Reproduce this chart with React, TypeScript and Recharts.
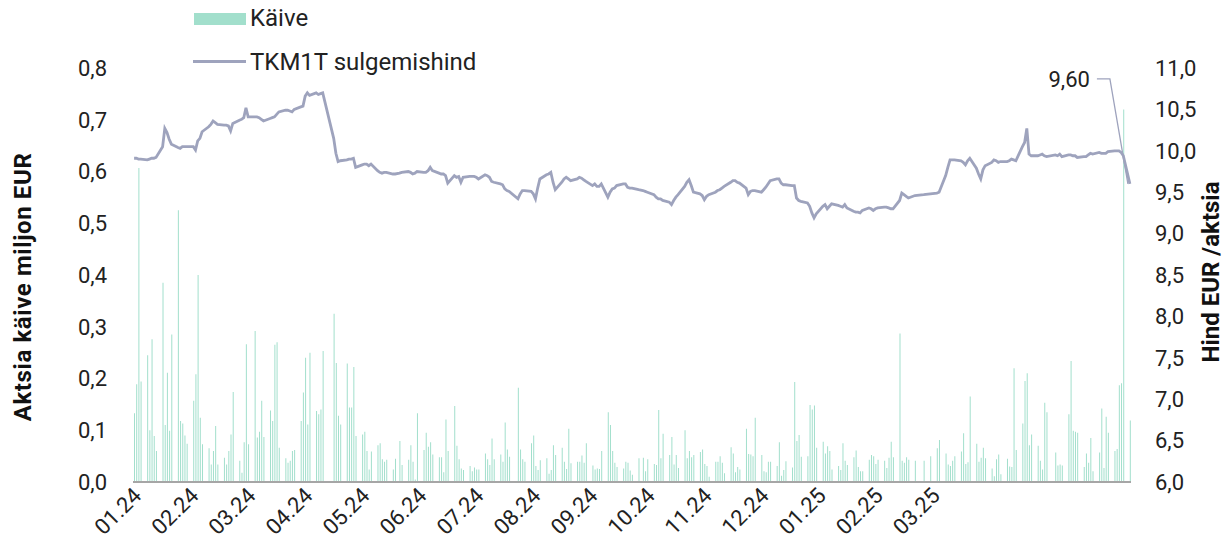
import React from 'react';
import {
  ComposedChart,
  Bar,
  Line,
  XAxis,
  YAxis,
  Legend,
  LabelList
} from 'recharts';

// daily turnover, million EUR (one value per trading day)
const turnover2401 = [0.133, 0.189, 0.607, 0.194, 0.245, 0.1, 0.276, 0.089, 0.06, 0.385, 0.11, 0.211, 0.099, 0.285, 0.525, 0.118, 0.113, 0.09, 0.074, 0.157, 0.208, 0.4];
const turnover2402 = [0.124, 0.073, 0.065, 0.034, 0.06, 0.108, 0.034, 0.047, 0.034, 0.06, 0.092, 0.174, 0.041, 0.018, 0.077, 0.266, 0.073, 0.292, 0.086, 0.097, 0.157];
const turnover2403 = [0.087, 0.138, 0.118, 0.265, 0.27, 0.066, 0.046, 0.037, 0.041, 0.06, 0.062, 0.118, 0.173, 0.24, 0.111, 0.25, 0.137, 0.131, 0.14, 0.253];
const turnover2404 = [0.325, 0.23, 0.128, 0.111, 0.229, 0.144, 0.144, 0.222, 0.089, 0.092, 0.097, 0.06, 0.024, 0.059, 0.071, 0.075, 0.044, 0.039, 0.043, 0.024, 0.045];
const turnover2405 = [0.079, 0.033, 0.043, 0.071, 0.039, 0.005, 0.133, 0.062, 0.095, 0.068, 0.077, 0.053, 0.048, 0.048, 0.019, 0.121, 0.06, 0.147, 0.07, 0.044, 0.026, 0.023];
const turnover2406 = [0.031, 0.021, 0.028, 0.024, 0.024, 0.055, 0.044, 0.033, 0.084, 0.044, 0.053, 0.039, 0.115, 0.063, 0.049, 0.182, 0.063, 0.044, 0.039];
const turnover2407 = [0.075, 0.09, 0.031, 0.023, 0.042, 0.046, 0.016, 0.023, 0.071, 0.052, 0.066, 0.039, 0.025, 0.103, 0.036, 0.039, 0.039, 0.051, 0.037, 0.075, 0.032, 0.024, 0.026];
const turnover2408 = [0.025, 0.06, 0.135, 0.11, 0.06, 0.037, 0.029, 0.026, 0.039, 0.037, 0.022, 0.014, 0.046, 0.047, 0.021, 0.044, 0.035, 0.033, 0.139, 0.046, 0.093];
const turnover2409 = [0.052, 0.087, 0.034, 0.052, 0.027, 0.1, 0.046, 0.06, 0.048, 0.052, 0.058, 0.063, 0.035, 0.031, 0.01, 0.039, 0.039, 0.05, 0.037, 0.017, 0.067];
const turnover2410 = [0.055, 0.019, 0.029, 0.024, 0.103, 0.054, 0.053, 0.05, 0.124, 0.052, 0.021, 0.019, 0.039, 0.039, 0.031, 0.077, 0.012, 0.023, 0.04, 0.028, 0.193, 0.079, 0.091];
const turnover2411 = [0.049, 0.05, 0.149, 0.14, 0.148, 0.066, 0.078, 0.055, 0.069, 0.06, 0.024, 0.031, 0.023, 0.075, 0.041, 0.033, 0.048, 0.061, 0.029, 0.021, 0.021];
const turnover2412 = [0.043, 0.052, 0.05, 0.035, 0.043, 0.041, 0.027, 0.047, 0.078, 0.048, 0.287, 0.041, 0.037, 0.048, 0.043, 0.041, 0.041, 0.05];
const turnover2501 = [0.065, 0.081, 0.055, 0.034, 0.031, 0.041, 0.05, 0.059, 0.094, 0.035, 0.038, 0.165, 0.074, 0.039, 0.047, 0.066, 0.046, 0.026, 0.011, 0.044, 0.053, 0.015];
const turnover2502 = [0.045, 0.03, 0.029, 0.22, 0.062, 0.113, 0.195, 0.21, 0.071, 0.092, 0.07, 0.041, 0.024, 0.153, 0.135, 0.057, 0.032, 0.034, 0.032];
const turnover2503 = [0.131, 0.234, 0.099, 0.097, 0.095, 0.029, 0.055, 0.037, 0.085, 0.021, 0.057, 0.142, 0.027, 0.126, 0.095, 0.06, 0.064, 0.187, 0.191, 0.72, 0.119];

// closing price, EUR
const price2401 = [9.91, 9.91, 9.9, 9.9, 9.89, 9.9, 9.91, 9.91, 9.92, 10.05, 10.27, 10.22, 10.14, 10.08, 10.04, 10.03, 10.05, 10.05, 10.05, 10.05, 10.01, 10.12];
const price2402 = [10.15, 10.23, 10.29, 10.32, 10.36, 10.34, 10.32, 10.31, 10.31, 10.3, 10.24, 10.33, 10.37, 10.38, 10.4, 10.52, 10.41, 10.41, 10.41, 10.4, 10.38];
const price2403 = [10.36, 10.39, 10.4, 10.41, 10.44, 10.47, 10.49, 10.49, 10.48, 10.47, 10.5, 10.53, 10.54, 10.66, 10.7, 10.67, 10.7, 10.68, 10.69, 10.7];
const price2404 = [10.15, 9.97, 9.87, 9.88, 9.89, 9.9, 9.9, 9.91, 9.8, 9.83, 9.84, 9.84, 9.82, 9.84, 9.76, 9.74, 9.73, 9.74, 9.74, 9.72, 9.72];
const price2405 = [9.73, 9.74, 9.75, 9.74, 9.72, 9.73, 9.75, 9.74, 9.74, 9.76, 9.8, 9.76, 9.73, 9.72, 9.72, 9.7, 9.61, 9.7, 9.68, 9.69, 9.62, 9.68];
const price2406 = [9.69, 9.69, 9.69, 9.68, 9.66, 9.71, 9.7, 9.68, 9.63, 9.62, 9.6, 9.59, 9.54, 9.52, 9.51, 9.42, 9.48, 9.52, 9.52];
const price2407 = [9.51, 9.48, 9.42, 9.55, 9.66, 9.71, 9.72, 9.74, 9.62, 9.53, 9.62, 9.66, 9.68, 9.66, 9.64, 9.66, 9.68, 9.67, 9.65, 9.63, 9.58, 9.6, 9.57];
const price2408 = [9.57, 9.6, 9.44, 9.5, 9.54, 9.55, 9.58, 9.6, 9.6, 9.56, 9.55, 9.55, 9.53, 9.52, 9.51, 9.5, 9.47, 9.44, 9.42, 9.42, 9.4];
const price2409 = [9.38, 9.35, 9.4, 9.44, 9.47, 9.57, 9.62, 9.65, 9.58, 9.5, 9.48, 9.46, 9.41, 9.45, 9.47, 9.5, 9.52, 9.53, 9.55, 9.57, 9.62];
const price2410 = [9.64, 9.64, 9.62, 9.61, 9.55, 9.47, 9.51, 9.52, 9.52, 9.5, 9.53, 9.56, 9.6, 9.64, 9.66, 9.66, 9.61, 9.59, 9.59, 9.58, 9.58, 9.43, 9.4];
const price2411 = [9.39, 9.37, 9.33, 9.25, 9.19, 9.24, 9.33, 9.35, 9.3, 9.33, 9.36, 9.34, 9.33, 9.32, 9.35, 9.31, 9.27, 9.26, 9.26, 9.25, 9.28];
const price2412 = [9.31, 9.3, 9.28, 9.3, 9.31, 9.32, 9.32, 9.31, 9.3, 9.3, 9.4, 9.49, 9.47, 9.45, 9.43, 9.46, 9.47, 9.48];
const price2501 = [9.49, 9.5, 9.7, 9.8, 9.89, 9.89, 9.89, 9.88, 9.86, 9.83, 9.88, 9.91, 9.79, 9.72, 9.66, 9.77, 9.82, 9.86, 9.89, 9.88, 9.86, 9.87];
const price2502 = [9.87, 9.88, 9.9, 9.89, 9.88, 10.05, 10.1, 10.27, 9.96, 9.94, 9.94, 9.95, 9.96, 9.94, 9.93, 9.95, 9.94, 9.96, 9.93];
const price2503 = [9.95, 9.95, 9.94, 9.94, 9.92, 9.93, 9.93, 9.95, 9.97, 9.96, 9.98, 9.97, 9.97, 9.97, 9.99, 10.0, 10.0, 10.0, 9.98, 9.94, 9.6];

const holidays = ['2024-01-01', '2024-03-29', '2024-04-01', '2024-05-01', '2024-06-24', '2024-08-20', '2024-12-24', '2024-12-25', '2024-12-26', '2024-12-31', '2025-01-01', '2025-02-24'];

const xLabels = ['01.24', '02.24', '03.24', '04.24', '05.24', '06.24', '07.24', '08.24', '09.24', '10.24', '11.24', '12.24', '01.25', '02.25', '03.25'];
const leftTicks = [0, 0.1, 0.2, 0.3, 0.4, 0.5, 0.6, 0.7, 0.8];
const rightTicks = [6, 6.5, 7, 7.5, 8, 8.5, 9, 9.5, 10, 10.5, 11];

const turnoverByMonth: Record<string, number[]> = {
  '2024-01': turnover2401, '2024-02': turnover2402, '2024-03': turnover2403, '2024-04': turnover2404,
  '2024-05': turnover2405, '2024-06': turnover2406, '2024-07': turnover2407, '2024-08': turnover2408,
  '2024-09': turnover2409, '2024-10': turnover2410, '2024-11': turnover2411, '2024-12': turnover2412,
  '2025-01': turnover2501, '2025-02': turnover2502, '2025-03': turnover2503
};
const priceByMonth: Record<string, number[]> = {
  '2024-01': price2401, '2024-02': price2402, '2024-03': price2403, '2024-04': price2404,
  '2024-05': price2405, '2024-06': price2406, '2024-07': price2407, '2024-08': price2408,
  '2024-09': price2409, '2024-10': price2410, '2024-11': price2411, '2024-12': price2412,
  '2025-01': price2501, '2025-02': price2502, '2025-03': price2503
};

const BAR_COLOR = '#a2dfcc';
const LINE_COLOR = '#9ea3bd';
const FONT = 'Roboto, "Noto Sans", sans-serif';

// calendar days, weekends and holidays left empty
const buildData = () => {
  const rows: any[] = [];
  const counters: Record<string, number> = {};
  const start = Date.UTC(2024, 0, 2);
  const end = Date.UTC(2025, 2, 31);
  for (let t = start; t <= end; t += 86400000) {
    const d = new Date(t);
    const date = d.toISOString().slice(0, 10);
    const month = date.slice(0, 7);
    const wd = d.getUTCDay();
    const trading = wd !== 0 && wd !== 6 && !holidays.includes(date);
    let turnover = null;
    let price = null;
    if (trading) {
      const i = counters[month] ?? 0;
      counters[month] = i + 1;
      turnover = turnoverByMonth[month][i] ?? null;
      price = priceByMonth[month][i] ?? null;
    }
    rows.push({ date, turnover, price });
  }
  return rows;
};

const data = buildData();
const lastIndex = data.length - 1;
// labels sit every 26 days, starting on the 5th day
const xTicks = xLabels.map((_, k) => data[4 + k * 26].date);
const xLabelMap: Record<string, string> = {};
xTicks.forEach((d, k) => { xLabelMap[d] = xLabels[k]; });

const fmt1 = (v: number) => v.toFixed(1).replace('.', ',');

const XTick = ({ x, y, payload }: any) => (
  <g transform={`translate(${x}, ${y}) rotate(-45)`}>
    <text x={0} y={0} textAnchor="end" fontSize={22} fontFamily={FONT} fill="#222">
      {xLabelMap[payload.value]}
    </text>
  </g>
);

const LastPriceLabel = ({ x, y, index, value }: any) => {
  if (index !== lastIndex || value == null) return null;
  const tx = x - 20;
  const ty = y - 105;
  return (
    <g>
      <polyline
        points={`${x - 2},${y} ${tx},${ty} ${tx - 13},${ty}`}
        fill="none"
        stroke={LINE_COLOR}
        strokeWidth={1.3}
      />
      <text x={tx - 20} y={ty} dy="0.36em" textAnchor="end" fontSize={22} fontFamily={FONT} fill="#222">
        {value.toFixed(2).replace('.', ',')}
      </text>
    </g>
  );
};

const LeftTitle = ({ viewBox }: any) => {
  const cx = viewBox.x + 22;
  const cy = viewBox.y + viewBox.height / 2 + 12;
  return (
    <text
      transform={`translate(${cx}, ${cy}) rotate(-90)`}
      textAnchor="middle"
      dy="0.36em"
      fontSize={24}
      letterSpacing={0.6}
      fontWeight="bold"
      fontFamily={FONT}
      fill="#111"
    >
      Aktsia käive miljon EUR
    </text>
  );
};

const RightTitle = ({ viewBox }: any) => {
  const cx = viewBox.x + 79;
  const cy = viewBox.y + viewBox.height / 2 - 3;
  return (
    <text
      transform={`translate(${cx}, ${cy}) rotate(-90)`}
      textAnchor="middle"
      dy="0.36em"
      fontSize={24}
      fontWeight="bold"
      fontFamily={FONT}
      fill="#111"
    >
      Hind EUR /aktsia
    </text>
  );
};

const ChartLegend = () => (
  <div style={{ position: 'relative', width: 500, height: 80, fontFamily: FONT, fontSize: 24, color: '#222' }}>
    <div style={{ position: 'absolute', left: 194, top: 13, width: 52, height: 12, background: BAR_COLOR }} />
    <span style={{ position: 'absolute', left: 250, top: 4, lineHeight: 'normal', whiteSpace: 'nowrap' }}>Käive</span>
    <div style={{ position: 'absolute', left: 193, top: 60, width: 53, height: 2.5, background: LINE_COLOR }} />
    <span style={{ position: 'absolute', left: 250, top: 48, lineHeight: 'normal', whiteSpace: 'nowrap' }}>TKM1T sulgemishind</span>
  </div>
);

const App = () => {
  return (
    <div style={{ position: 'absolute', left: 0, top: 0, width: 1227, height: 558, background: '#fff' }}>
      <ComposedChart
        width={1227}
        height={558}
        data={data}
        margin={{ top: 68, right: 0, bottom: 0, left: 0 }}
      >
        <XAxis
          dataKey="date"
          type="category"
          ticks={xTicks}
          interval={0}
          tick={<XTick />}
          tickLine={false}
          tickMargin={9}
          axisLine={{ stroke: '#a6a6a6', strokeWidth: 2 }}
          height={76}
        />
        <YAxis
          yAxisId="left"
          orientation="left"
          width={133}
          domain={[0, 0.8]}
          ticks={leftTicks}
          tickFormatter={fmt1}
          axisLine={false}
          tickLine={false}
          tickMargin={20}
          tick={{ fontSize: 22, fontFamily: FONT, fill: '#222' }}
          label={LeftTitle}
        />
        <YAxis
          yAxisId="right"
          orientation="right"
          width={96}
          domain={[6, 11]}
          ticks={rightTicks}
          tickFormatter={fmt1}
          axisLine={false}
          tickLine={false}
          tickMargin={18}
          tick={{ fontSize: 22, fontFamily: FONT, fill: '#222' }}
          label={RightTitle}
        />
        <Legend
          layout="horizontal"
          verticalAlign="middle"
          content={<ChartLegend />}
          wrapperStyle={{ top: 0, left: 0, width: 500, height: 80 }}
        />
        <Bar
          yAxisId="left"
          dataKey="turnover"
          name="Käive"
          fill={BAR_COLOR}
          barSize={1}
          isAnimationActive={false}
        />
        <Line
          yAxisId="right"
          dataKey="price"
          name="TKM1T sulgemishind"
          type="linear"
          stroke={LINE_COLOR}
          strokeWidth={2.8}
          dot={false}
          activeDot={false}
          connectNulls
          isAnimationActive={false}
        >
          <LabelList dataKey="price" content={<LastPriceLabel />} />
        </Line>
      </ComposedChart>
    </div>
  );
};

export default App;
